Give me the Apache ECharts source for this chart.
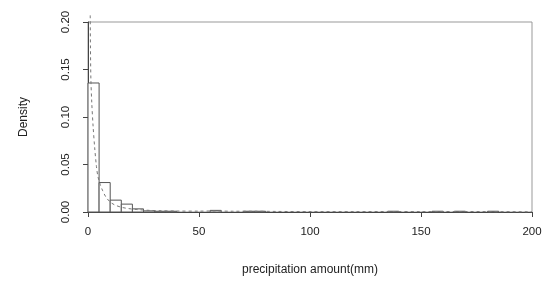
<!DOCTYPE html>
<html>
<head>
<meta charset="utf-8">
<script src="https://cdn.jsdelivr.net/npm/echarts@6/dist/echarts.min.js"></script>
<style>html,body{margin:0;padding:0;background:#fff}#c{width:550px;height:285px}</style>
</head>
<body>
<div id="c"></div>
<script>
// Histogram bins (start, end) and density values
var binStart = [0, 5, 10, 15, 20, 25, 30, 35, 55, 70, 75, 135, 155, 165, 180];
var binEnd   = [5, 10, 15, 20, 25, 30, 35, 40, 60, 75, 80, 140, 160, 170, 185];
var binDensity = [0.1358, 0.031, 0.0125, 0.0083, 0.0033, 0.0012, 0.0008, 0.0008, 0.0017, 0.0008, 0.0008, 0.0008, 0.0008, 0.0008, 0.0008];
// Kernel density curve
var densX = [1.0, 1.1, 1.3, 1.7, 2.3, 3.0, 3.8, 4.5, 5.5, 6.5, 8, 10, 12, 15, 18, 22, 27, 33, 40, 50, 57, 65, 75, 85, 100, 120, 138, 150, 158, 168, 182, 200];
var densY = [0.207, 0.175, 0.14, 0.115, 0.09, 0.068, 0.048, 0.037, 0.029, 0.023, 0.016, 0.0105, 0.0075, 0.005, 0.0037, 0.0026, 0.0018, 0.0013, 0.001, 0.0009, 0.0011, 0.0008, 0.0008, 0.0006, 0.0004, 0.0004, 0.0005, 0.0004, 0.0005, 0.0005, 0.0004, 0.0002];
// Axis ticks
var xTicks = [0, 50, 100, 150, 200];
var yTicks = [0, 0.05, 0.10, 0.15, 0.20];

var bars = binStart.map(function (s, i) { return [s, binEnd[i], binDensity[i]]; });
var curve = densX.map(function (x, i) { return [x, densY[i]]; });

var chart = echarts.init(document.getElementById('c'), null, {renderer: 'canvas'});
var font = 'Liberation Sans, Arial, sans-serif';
chart.setOption({
  animation: false,
  backgroundColor: '#fff',
  grid: {left: 88, right: 18, top: 22, bottom: 73, show: true, borderColor: '#999', borderWidth: 1, backgroundColor: 'transparent'},
  xAxis: {
    type: 'value', min: xTicks[0], max: xTicks[xTicks.length - 1], interval: xTicks[1] - xTicks[0],
    name: 'precipitation amount(mm)', nameLocation: 'middle', nameGap: 52,
    nameTextStyle: {fontFamily: font, fontSize: 12, color: '#222'},
    axisLine: {show: true, lineStyle: {color: '#444', width: 1}},
    axisTick: {show: true, inside: false, length: 5, lineStyle: {color: '#444'}},
    axisLabel: {fontFamily: font, fontSize: 11.5, color: '#222', margin: 14},
    splitLine: {show: false}
  },
  yAxis: {
    type: 'value', min: yTicks[0], max: yTicks[yTicks.length - 1], interval: yTicks[1] - yTicks[0],
    name: 'Density', nameLocation: 'middle', nameGap: 58, nameRotate: 90,
    nameTextStyle: {fontFamily: font, fontSize: 12, color: '#222'},
    axisLine: {show: true, lineStyle: {color: '#444', width: 1}},
    axisTick: {show: true, inside: false, length: 5, lineStyle: {color: '#444'}},
    axisLabel: {fontFamily: font, fontSize: 11.5, color: '#222', margin: 16, rotate: 90,
      formatter: function (v) { return v.toFixed(2); }},
    splitLine: {show: false}
  },
  series: [
    {
      type: 'custom',
      data: bars,
      encode: {x: [0, 1], y: 2},
      renderItem: function (params, api) {
        var p0 = api.coord([api.value(0), 0]);
        var p1 = api.coord([api.value(1), api.value(2)]);
        return {
          type: 'rect',
          shape: {x: p0[0], y: p1[1], width: p1[0] - p0[0], height: p0[1] - p1[1]},
          style: {fill: '#fff', stroke: '#555', lineWidth: 1}
        };
      }
    },
    {
      type: 'line',
      data: curve,
      showSymbol: false,
      smooth: 0.3,
      clip: false,
      lineStyle: {color: '#777', width: 1, type: [3, 3]},
      z: 3
    }
  ]
});
</script>
</body>
</html>
